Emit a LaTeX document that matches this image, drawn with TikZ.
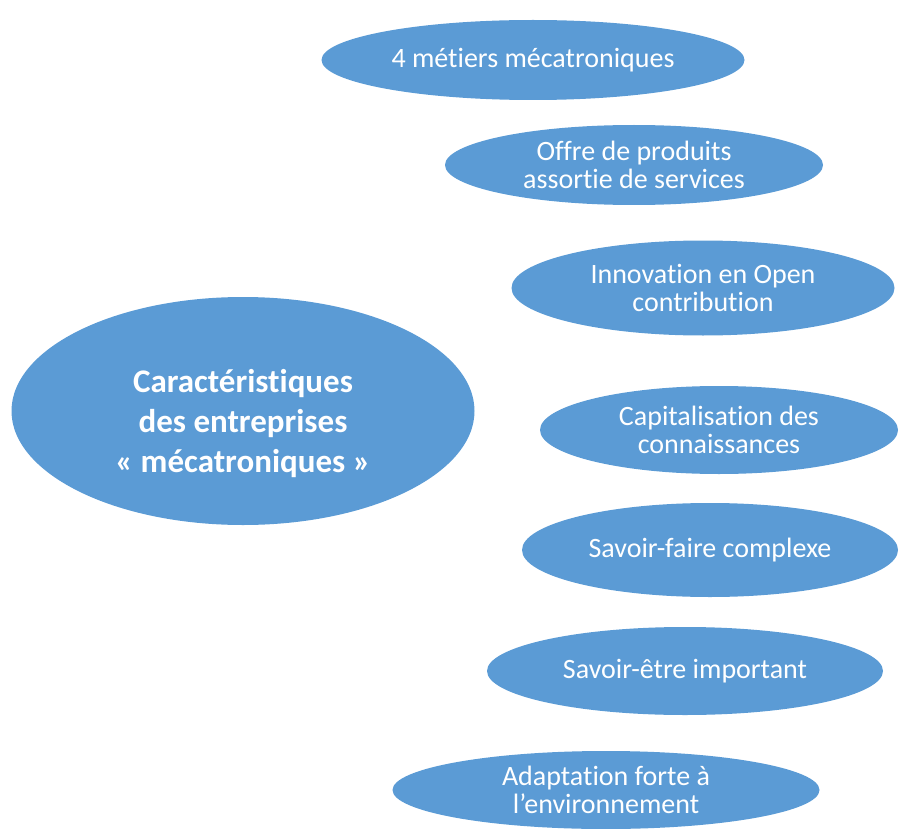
\documentclass[tikz,border=0pt]{standalone}
\usepackage{fontspec}
\setmainfont{Carlito}[Ligatures = NoCommon]
\usetikzlibrary{shapes.geometric}
\definecolor{bubble}{HTML}{5B9BD5}

\newcommand{\scale}{1}

\begin{document}
\begin{tikzpicture}[scale = \scale, x = 1pt, y = -1pt,
  bulle/.style = {ellipse, fill = bubble, inner sep = 0pt},
  txt/.style = {text = white, align = center, inner sep = 0pt,
    font = \fontsize{28}{28}\selectfont},
  grand/.style = {text = white, align = center, inner sep = 0pt,
    font = \fontsize{33}{40}\selectfont\bfseries}]
\useasboundingbox (0,0) rectangle (899,829);

\node [bulle, minimum width = 463pt, minimum height = 228pt] (c) at (243,411) {};
\node [grand] (ct) at (243,424) {Caractéristiques\\des entreprises\\« mécatroniques »};

\node [bulle, minimum width = 423pt, minimum height = 80pt] (v1) at (533,60) {};
\node [bulle, minimum width = 378pt, minimum height = 80pt] (v2) at (634,165) {};
\node [bulle, minimum width = 383pt, minimum height = 95pt] (v3) at (703,288) {};
\node [bulle, minimum width = 358pt, minimum height = 88pt] (v4) at (719,430) {};
\node [bulle, minimum width = 376pt, minimum height = 94pt] (v5) at (710,550) {};
\node [bulle, minimum width = 396pt, minimum height = 88pt] (v6) at (685,671) {};
\node [bulle, minimum width = 427pt, minimum height = 78pt] (v7) at (606,790) {};

\node [txt] (t1) at (v1) {4 métiers mécatroniques};
\node [txt] (t2) at (v2) {Offre de produits\\assortie de services};
\node [txt] (t3) at (v3) {Innovation en Open\\contribution};
\node [txt] (t4) at (v4) {Capitalisation des\\connaissances};
\node [txt] (t5) at (v5) {Savoir-faire complexe};
\node [txt] (t6) at (v6) {Savoir-être important};
\node [txt] (t7) at (v7) {Adaptation forte à\\l’environnement};
\end{tikzpicture}
\end{document}
